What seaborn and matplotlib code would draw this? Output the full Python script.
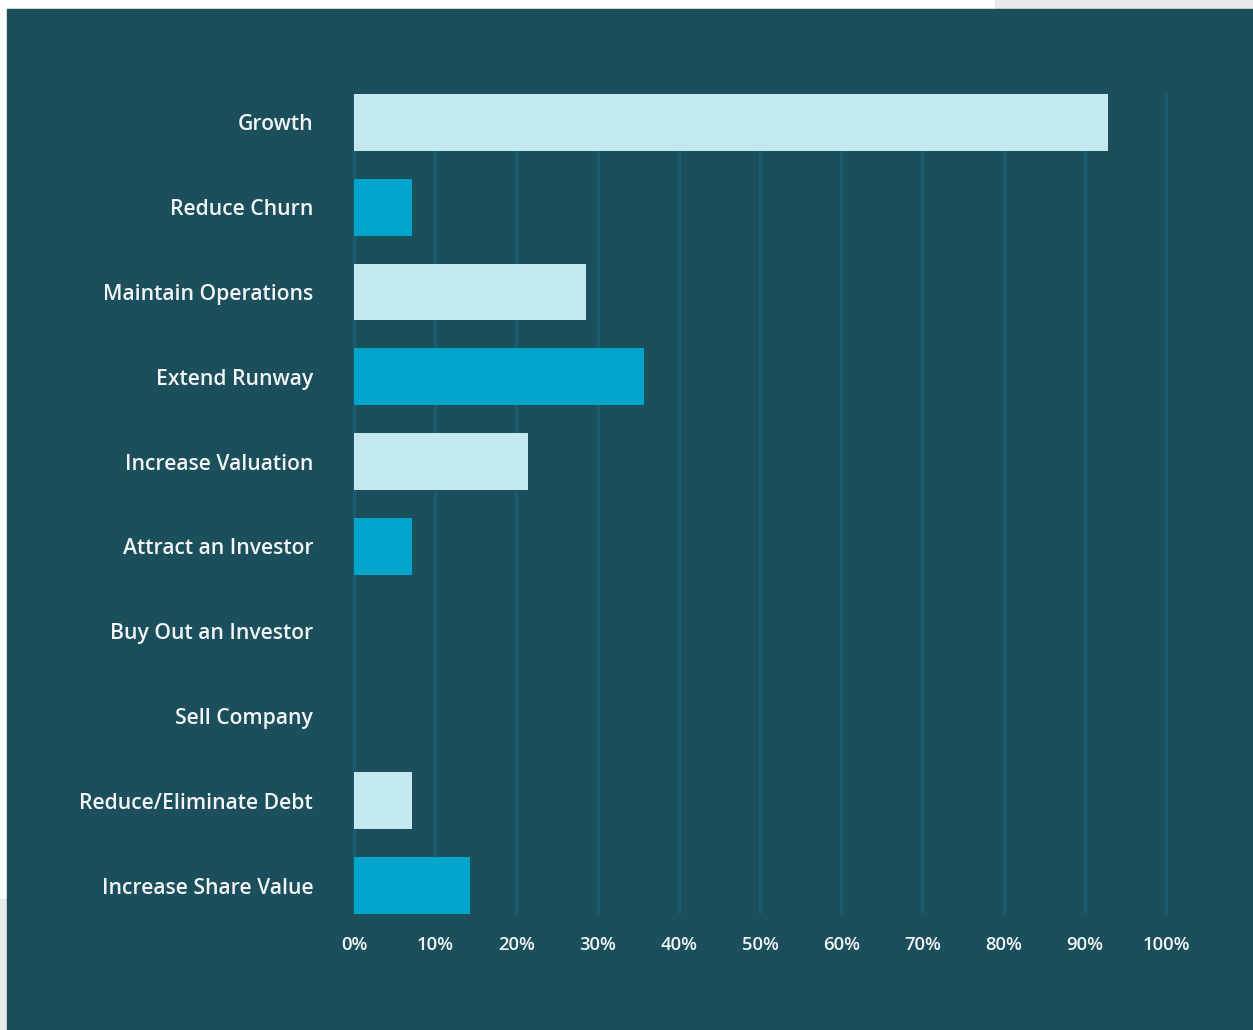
import matplotlib
matplotlib.use("Agg")
import matplotlib.pyplot as plt
from matplotlib.patches import Rectangle
from matplotlib.ticker import FixedLocator
import seaborn as sns
import pandas as pd

# Survey results: share of respondents citing each use of funds (%)
categories = [
    "Growth",
    "Reduce Churn",
    "Maintain Operations",
    "Extend Runway",
    "Increase Valuation",
    "Attract an Investor",
    "Buy Out an Investor",
    "Sell Company",
    "Reduce/Eliminate Debt",
    "Increase Share Value",
]
shares = [92.9, 7.1, 28.6, 35.7, 21.4, 7.1, 0.0, 0.0, 7.1, 14.3]
x_ticks = [0, 10, 20, 30, 40, 50, 60, 70, 80, 90, 100]
x_tick_labels = [f"{t}%" for t in x_ticks]

PANEL = "#1b4f5c"
LIGHT = "#c4e8f0"
BRIGHT = "#00a5cc"
GRID = "#1b5b6f"
TEXT = "#f2f4f5"

sns.set_theme(style="white")
plt.rcParams["font.family"] = ["Open Sans", "DejaVu Sans"]

W, H = 1253, 1030
fig = plt.figure(figsize=(W / 100, H / 100), dpi=100, facecolor="white")

# page background around the dark panel
fig.patches.append(Rectangle((995 / W, 1 - 9 / H), 1 - 995 / W, 9 / H,
                             transform=fig.transFigure, color="#e8e9eb", zorder=-2))
fig.patches.append(Rectangle((0, 0), 7 / W, 1 - 899 / H,
                             transform=fig.transFigure, color="#e8e9eb", zorder=-2))
fig.patches.append(Rectangle((7 / W, 0), 1 - 7 / W, 1 - 9 / H,
                             transform=fig.transFigure, color=PANEL, zorder=-2))

# axes placement (pixels): 0% at x=354, 100% at x=1166, bars from y=94 to y=914
ax_left, ax_right = 350, 1180
ax_top, ax_bottom = 94, 914
ax = fig.add_axes([ax_left / W, 1 - ax_bottom / H,
                   (ax_right - ax_left) / W, (ax_bottom - ax_top) / H])
ax.set_facecolor("none")
ax.set_zorder(1)

df = pd.DataFrame({"category": categories, "share": shares})
palette = [LIGHT if i % 2 == 0 else BRIGHT for i in range(len(categories))]
bar_w = 0.67
sns.barplot(data=df, x="share", y="category", hue="category", palette=palette,
            legend=False, width=bar_w, saturation=1, ax=ax, zorder=3,
            linewidth=0)

px_per_unit = (1166 - 354) / 100
ax.set_xlim(-(354 - ax_left) / px_per_unit, (ax_right - 354) / px_per_unit)
ax.set_ylim(len(categories) - 1 + bar_w / 2, -bar_w / 2)

for t in x_ticks:
    ax.axvline(t, color=GRID, lw=2.2, zorder=1)

ax.xaxis.set_major_locator(FixedLocator(x_ticks))
ax.set_xticklabels(x_tick_labels)
ax.set_xlabel("")
ax.set_ylabel("")
for s in ax.spines.values():
    s.set_visible(False)
ax.tick_params(axis="x", length=0, pad=16, labelsize=13.3, labelcolor=TEXT)
ax.tick_params(axis="y", length=0, pad=26.5, labelsize=15.2, labelcolor=TEXT)
for lab in ax.get_xticklabels() + ax.get_yticklabels():
    lab.set_fontweight("semibold")

fig.savefig("out.png", dpi=100, facecolor=fig.get_facecolor())
